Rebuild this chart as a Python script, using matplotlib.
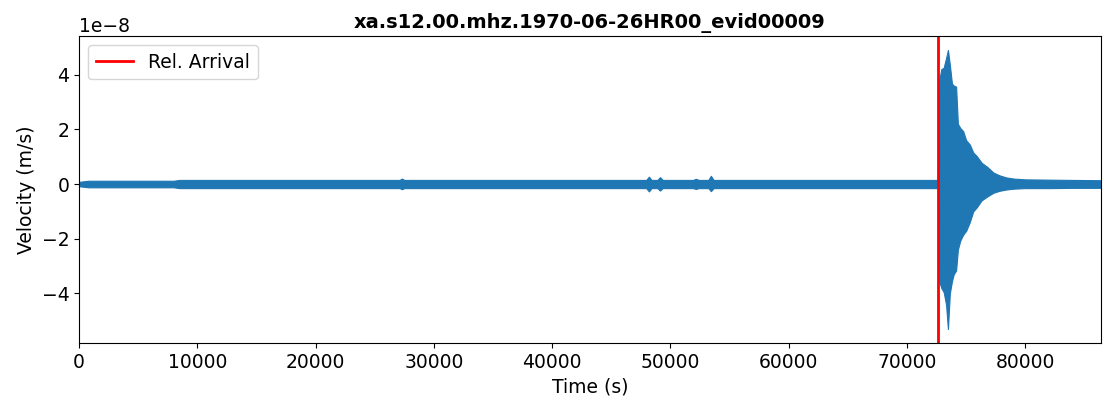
import matplotlib.pyplot as plt
import numpy as np

# Trace envelope (time in s, velocity in 1e-8 m/s)
times = [0, 800, 3000, 8000, 8500, 15000, 20000, 26000,
         27100, 27300, 27500, 32000, 38000, 44000,
         47950, 48180, 48400, 48900, 49110, 49350, 51900, 52150, 52400,
         53200, 53420, 53650, 58000, 62000, 66000, 70000, 72600,
         72750, 72900, 73100, 73300, 73460, 73620, 73800, 73950, 74150,
         74300, 74500, 74750, 75000, 75300, 75600, 75900, 76300, 76800,
         77300, 77800, 78400, 79000, 80000, 82000, 84000, 86400]
upper = [0.08, 0.12, 0.12, 0.12, 0.15, 0.15, 0.15, 0.15,
         0.15, 0.20, 0.15, 0.15, 0.15, 0.15,
         0.15, 0.27, 0.15, 0.15, 0.25, 0.15, 0.15, 0.19, 0.15,
         0.15, 0.30, 0.15, 0.15, 0.15, 0.15, 0.15, 0.15,
         3.85, 4.20, 4.25, 4.60, 4.90, 4.36, 3.67, 3.60, 3.56,
         2.20, 2.05, 1.93, 1.60, 1.45, 1.15, 1.02, 0.78, 0.62,
         0.42, 0.32, 0.24, 0.20, 0.17, 0.16, 0.15, 0.14]
lower = [-0.08, -0.12, -0.12, -0.12, -0.15, -0.15, -0.15, -0.15,
         -0.15, -0.19, -0.15, -0.15, -0.15, -0.15,
         -0.15, -0.27, -0.15, -0.15, -0.24, -0.15, -0.15, -0.18, -0.15,
         -0.15, -0.26, -0.15, -0.15, -0.15, -0.15, -0.15, -0.15,
         -3.60, -3.80, -3.95, -4.40, -5.30, -4.00, -3.55, -3.30, -3.16,
         -2.40, -2.07, -1.85, -1.71, -1.40, -1.00, -0.85, -0.60, -0.45,
         -0.32, -0.25, -0.20, -0.17, -0.15, -0.15, -0.14, -0.14]
arrival = 72650
title = "xa.s12.00.mhz.1970-06-26HR00_evid00009"

t = np.array(times)
up = np.array(upper) * 1e-8
lo = np.array(lower) * 1e-8

plt.rcParams["font.size"] = 13.5

fig = plt.figure(figsize=(11.03, 4.04), dpi=100)
ax = fig.add_axes([79 / 1103, 61 / 404, 1022 / 1103, 307 / 404])

ax.fill_between(t, lo, up, color="C0", linewidth=0.8, edgecolor="C0")
ax.axvline(x=arrival, color="red", linewidth=2, label="Rel. Arrival")

ax.set_xlim(0, 86400)
span = up.max() - lo.min()
ax.set_ylim(lo.min() - 0.05 * span, up.max() + 0.05 * span)
ax.legend(loc="upper left")
ax.set_xlabel("Time (s)")
ax.set_ylabel("Velocity (m/s)")
ax.set_title(title, fontweight="bold", fontsize=14)

fig.savefig("out.png", dpi=100)
